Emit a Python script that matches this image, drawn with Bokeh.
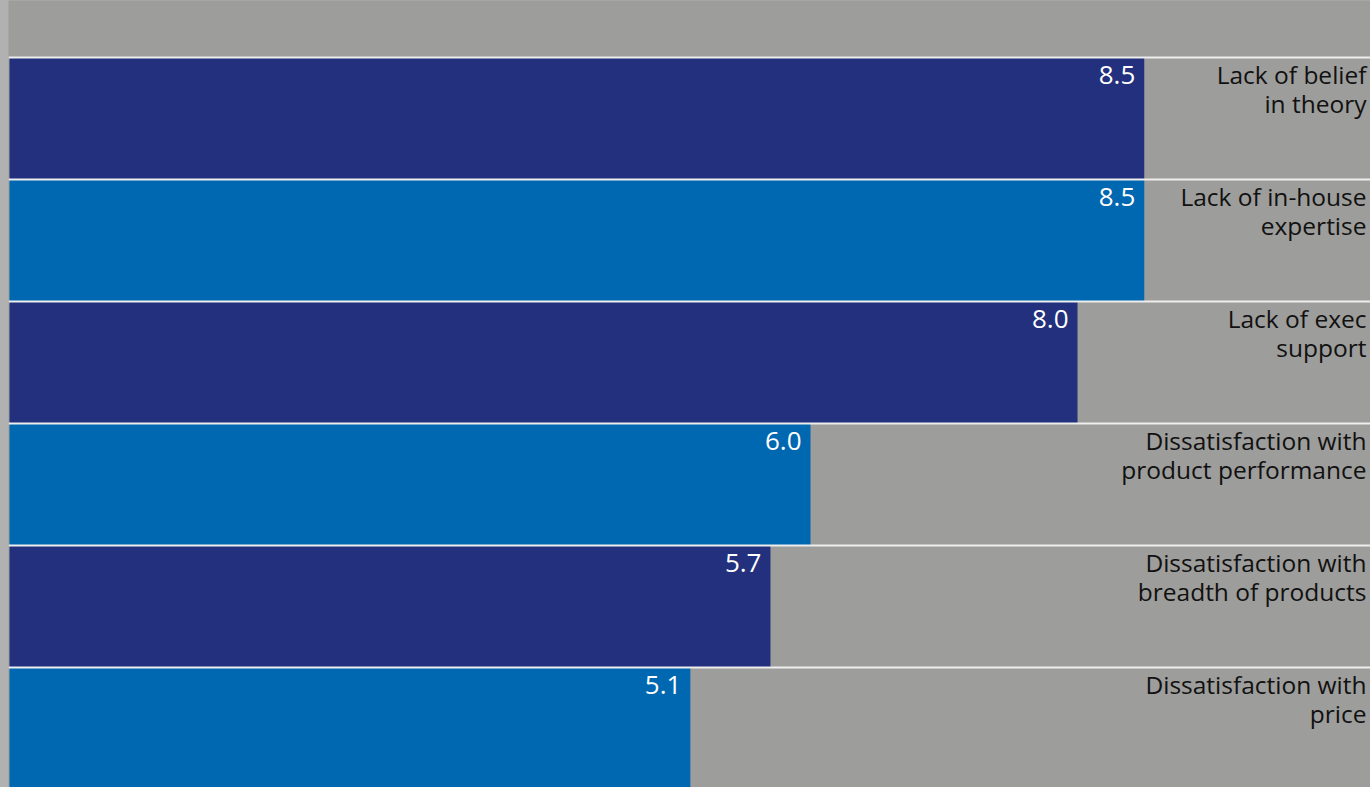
from bokeh.plotting import figure
from bokeh.models import Range1d, GlobalInlineStyleSheet
from bokeh.core.properties import value
from bokeh.embed import file_html
from bokeh.resources import INLINE

# ---- data ----
categories = [
    "Lack of belief\nin theory",
    "Lack of in-house\nexpertise",
    "Lack of exec\nsupport",
    "Dissatisfaction with\nproduct performance",
    "Dissatisfaction with\nbreadth of products",
    "Dissatisfaction with\nprice",
]
values = [8.5, 8.5, 8.0, 6.0, 5.7, 5.1]
value_labels = ["8.5", "8.5", "8.0", "6.0", "5.7", "5.1"]

# ---- styling ----
NAVY = "#22307d"
BLUE = "#0067b1"
GRAY = "#9d9d9b"
PAGE = "#b1b1b1"
FONT = value("Open Sans")

rows = list(range(len(values)))
colors = [NAVY if i % 2 == 0 else BLUE for i in rows]
row_tops = [r - 0.5 for r in rows]

W, H = 1362, 787
PX_PER_UNIT = 133.5
X_MIN = -1 / PX_PER_UNIT
X_MAX = X_MIN + W / PX_PER_UNIT
Y_TOP = (0 - 57) / 122 - 0.5
Y_BOT = (H - 57) / 122 - 0.5

p = figure(
    width=W, height=H, output_backend="svg", toolbar_location=None,
    x_range=Range1d(X_MIN, X_MAX), y_range=Range1d(Y_BOT, Y_TOP),
    x_axis_location=None, y_axis_location=None,
    min_border=0, background_fill_color=GRAY, border_fill_color=GRAY,
    outline_line_color=None,
)
p.grid.visible = False
p.styles = {"margin-left": "8px"}
p.stylesheets = [GlobalInlineStyleSheet(css="html, body { background: %s; overflow: hidden; }" % PAGE)]

p.hbar(y=rows, left=0, right=values, height=1.0, fill_color=colors, line_color=None)
p.hspan(y=row_tops, line_color="#eeeeee", line_width=2)

p.text(x=values, y=row_tops, text=value_labels, text_align="right", text_baseline="top",
       x_offset=-9, y_offset=8, text_color="white", text_font=FONT, text_font_size="26px")
p.text(x=[X_MAX] * len(rows), y=row_tops, text=categories, text_align="right",
       text_baseline="top", x_offset=-4, y_offset=0, text_color="#111111", text_font=FONT,
       text_font_size="24.5px", text_line_height=0.88)

open("out.html", "w").write(file_html(p, INLINE))
